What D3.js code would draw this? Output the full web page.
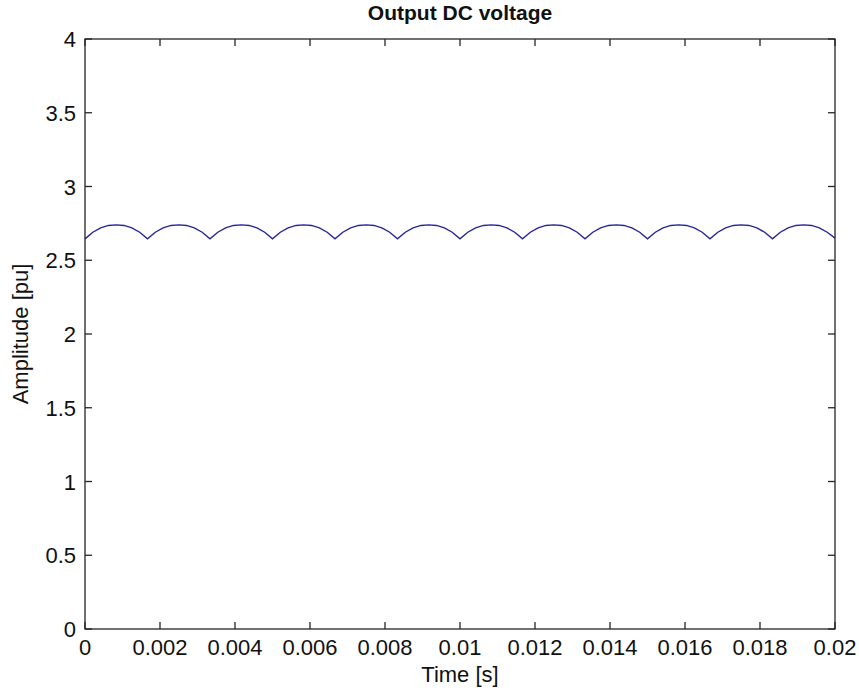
<!DOCTYPE html>
<html>
<head>
<meta charset="utf-8">
<script src="https://cdn.jsdelivr.net/npm/d3@7"></script>
<style>
  body { margin: 0; background: #fff; }
  svg { display: block; font-family: "Liberation Sans", Arial, sans-serif; }
</style>
</head>
<body>
<div id="chart"></div>
<script>
// ticks
const xTicks = [0, 0.002, 0.004, 0.006, 0.008, 0.01, 0.012, 0.014, 0.016, 0.018, 0.02];
const yTicks = [0, 0.5, 1, 1.5, 2, 2.5, 3, 3.5, 4];

// output DC voltage in pu, one sample every 0.02/96 s
const sampleStep = 0.02 / 96;
const voltage = [
  2.645, 2.690, 2.720, 2.736, 2.740, 2.736, 2.720, 2.690,
  2.645, 2.690, 2.720, 2.736, 2.740, 2.736, 2.720, 2.690,
  2.645, 2.690, 2.720, 2.736, 2.740, 2.736, 2.720, 2.690,
  2.645, 2.690, 2.720, 2.736, 2.740, 2.736, 2.720, 2.690,
  2.645, 2.690, 2.720, 2.736, 2.740, 2.736, 2.720, 2.690,
  2.645, 2.690, 2.720, 2.736, 2.740, 2.736, 2.720, 2.690,
  2.645, 2.690, 2.720, 2.736, 2.740, 2.736, 2.720, 2.690,
  2.645, 2.690, 2.720, 2.736, 2.740, 2.736, 2.720, 2.690,
  2.645, 2.690, 2.720, 2.736, 2.740, 2.736, 2.720, 2.690,
  2.645, 2.690, 2.720, 2.736, 2.740, 2.736, 2.720, 2.690,
  2.645, 2.690, 2.720, 2.736, 2.740, 2.736, 2.720, 2.690,
  2.645, 2.690, 2.720, 2.736, 2.740, 2.736, 2.720, 2.690,
  2.650
];

const width = 859;
const height = 697;
const margin = { top: 39, right: 24, bottom: 68, left: 85 };
const tickLen = 7;
const axisColor = "#262626";

const svg = d3.select("#chart")
    .append("svg")
    .attr("width", width)
    .attr("height", height);

const x = d3.scaleLinear()
    .domain([0, 0.02])
    .range([margin.left, width - margin.right]);

const y = d3.scaleLinear()
    .domain([0, 4])
    .range([height - margin.bottom, margin.top]);

// the curve
const line = d3.line()
    .x((d, i) => x(i * sampleStep))
    .y(d => y(d));

svg.append("path")
    .datum(voltage)
    .attr("d", line)
    .attr("fill", "none")
    .attr("stroke", "#25259c")
    .attr("stroke-width", 1.4);

// box
svg.append("rect")
    .attr("x", x(0))
    .attr("y", y(4))
    .attr("width", x(0.02) - x(0))
    .attr("height", y(0) - y(4))
    .attr("fill", "none")
    .attr("stroke", axisColor)
    .attr("stroke-width", 1.3);

// ticks on all four sides, pointing in
const g = svg.append("g").attr("stroke", axisColor).attr("stroke-width", 1.3);
g.selectAll(".xb").data(xTicks).join("line")
    .attr("x1", d => x(d)).attr("x2", d => x(d))
    .attr("y1", y(0)).attr("y2", y(0) - tickLen);
g.selectAll(".xt").data(xTicks).join("line")
    .attr("x1", d => x(d)).attr("x2", d => x(d))
    .attr("y1", y(4)).attr("y2", y(4) + tickLen);
g.selectAll(".yl").data(yTicks).join("line")
    .attr("x1", x(0)).attr("x2", x(0) + tickLen)
    .attr("y1", d => y(d)).attr("y2", d => y(d));
g.selectAll(".yr").data(yTicks).join("line")
    .attr("x1", x(0.02)).attr("x2", x(0.02) - tickLen)
    .attr("y1", d => y(d)).attr("y2", d => y(d));

// tick labels
svg.append("g").selectAll("text")
    .data(xTicks)
    .join("text")
    .attr("x", d => x(d))
    .attr("y", y(0) + 26)
    .attr("text-anchor", "middle")
    .style("font-size", "22px")
    .style("fill", "#111")
    .text(d => d);

svg.append("g").selectAll("text")
    .data(yTicks)
    .join("text")
    .attr("x", x(0) - 9)
    .attr("y", d => y(d) + 8)
    .attr("text-anchor", "end")
    .style("font-size", "22px")
    .style("fill", "#111")
    .text(d => d);

// title and axis labels
svg.append("text")
    .attr("x", (x(0) + x(0.02)) / 2)
    .attr("y", 20)
    .attr("text-anchor", "middle")
    .style("font-size", "21px")
    .style("font-weight", "bold")
    .style("fill", "#111")
    .text("Output DC voltage");

svg.append("text")
    .attr("x", (x(0) + x(0.02)) / 2)
    .attr("y", 682)
    .attr("text-anchor", "middle")
    .style("font-size", "22px")
    .style("fill", "#111")
    .text("Time [s]");

svg.append("text")
    .attr("transform", `translate(28, ${(y(0) + y(4)) / 2}) rotate(-90)`)
    .attr("text-anchor", "middle")
    .style("font-size", "22px")
    .style("fill", "#111")
    .text("Amplitude [pu]");
</script>
</body>
</html>
